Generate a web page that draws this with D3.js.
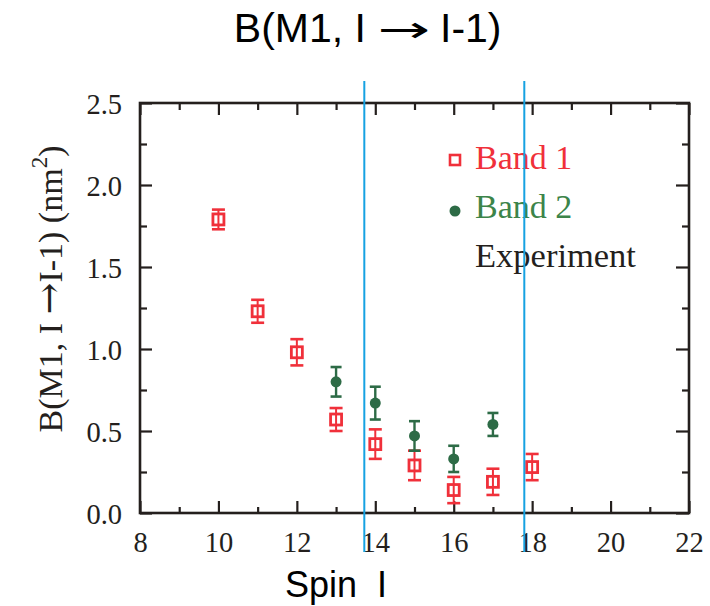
<!DOCTYPE html>
<html>
<head>
<meta charset="utf-8">
<script src="https://cdn.jsdelivr.net/npm/d3@7"></script>
<style>
body { margin: 0; background: #ffffff; }
</style>
</head>
<body>
<div class="chart"></div>
<script>
var width = 710;
var height = 606;

// data
var band1_spin = [10, 11, 12, 13, 14, 15, 16, 17, 18];
var band1_b    = [1.79, 1.23, 0.98, 0.57, 0.42, 0.29, 0.14, 0.19, 0.28];
var band1_err  = [0.06, 0.07, 0.08, 0.07, 0.09, 0.09, 0.08, 0.08, 0.08];

var band2_spin = [13, 14, 15, 16, 17];
var band2_b    = [0.80, 0.67, 0.47, 0.33, 0.54];
var band2_err  = [0.09, 0.10, 0.09, 0.08, 0.07];

var x_major = [8, 10, 12, 14, 16, 18, 20, 22];
var x_minor = [9, 11, 13, 15, 17, 19, 21];
var y_major = [0, 0.5, 1.0, 1.5, 2.0, 2.5];
var y_minor = [0.25, 0.75, 1.25, 1.75, 2.25];

var legend_labels = ['Band 1', 'Band 2', 'Experiment'];
// blue marker lines, in spin units
var marker_lines = [13.72, 17.8];

var red = '#f0303a';
var green_mark = '#2d6b46';
var green_text = '#3c8449';
var ink = '#241f1d';
var serif = '"Liberation Serif", "Times New Roman", serif';
var sans = '"Liberation Sans", Arial, sans-serif';

var chart_svg, x, y;

function draw() {
	chart_svg = d3.select('.chart').append('svg')
		.attr('width', width)
		.attr('height', height)
		.style('background', '#fff');

	x = d3.scaleLinear().domain([8, 22]).range([140, 689]);
	y = d3.scaleLinear().domain([0, 2.5]).range([513, 103]);

	draw_axes();
	draw_band1();
	draw_band2();
	draw_legend();
	draw_notes();
}

function tick_axis(axis, tx, ty, size, cls) {
	var g = chart_svg.append('g')
		.attr('class', cls)
		.attr('transform', 'translate(' + tx + ',' + ty + ')')
		.call(axis.tickSizeInner(size).tickSizeOuter(0));
	g.select('.domain').remove();
	g.selectAll('line').attr('stroke', ink).attr('stroke-width', 2.2);
	return g;
}

function draw_axes() {
	let x_lo = x.range()[0], x_hi = x.range()[1];
	let y_lo = y.range()[0], y_hi = y.range()[1];

	// bottom
	let gb = tick_axis(d3.axisBottom(x).tickValues(x_major).tickPadding(19), 0, y_lo, -12, 'xaxis');
	gb.selectAll('text').attr('font-family', serif).attr('font-size', 28.5).attr('fill', ink);
	tick_axis(d3.axisBottom(x).tickValues(x_minor).tickFormat(''), 0, y_lo, -6, 'xminor');
	// top
	tick_axis(d3.axisTop(x).tickValues(x_major).tickFormat(''), 0, y_hi, -12, 'xtop');
	tick_axis(d3.axisTop(x).tickValues(x_minor).tickFormat(''), 0, y_hi, -7, 'xtopminor');

	// left
	let gl = tick_axis(d3.axisLeft(y).tickValues(y_major).tickFormat(d3.format('.1f')).tickPadding(18), x_lo, 0, -12, 'yaxis');
	gl.selectAll('text').attr('font-family', serif).attr('font-size', 28.5).attr('fill', ink).attr('dy', '0.38em');
	tick_axis(d3.axisLeft(y).tickValues(y_minor).tickFormat(''), x_lo, 0, -7, 'yminor');
	// right
	tick_axis(d3.axisRight(y).tickValues(y_major).tickFormat(''), x_hi, 0, -13, 'yright');
	tick_axis(d3.axisRight(y).tickValues(y_minor).tickFormat(''), x_hi, 0, -7, 'yrightminor');

	chart_svg.append('rect')
		.attr('x', x_lo)
		.attr('y', y_hi)
		.attr('width', x_hi - x_lo)
		.attr('height', y_lo - y_hi)
		.attr('fill', 'none')
		.attr('stroke', ink)
		.attr('stroke-width', 2.6);

	// y title
	let yt = chart_svg.append('text')
		.attr('transform', 'translate(62,' + 289 + ') rotate(-90)')
		.attr('text-anchor', 'middle')
		.attr('font-family', serif)
		.attr('font-size', 34)
		.attr('fill', ink);
	yt.append('tspan').text('B(M1, I ');
	yt.append('tspan').attr('font-family', '"DejaVu Serif", serif').attr('font-size', 38).text('\u2192');
	yt.append('tspan').text('I-1) (nm');
	yt.append('tspan').attr('font-size', 23).attr('dy', -15).text('2');
	yt.append('tspan').attr('dy', 15).text(')');
}

function error_bars(g, spin, b, err, color, cap, sw) {
	let pts = spin.map(function(s, i) { return {s: s, b: b[i], e: err[i]}; });
	g.selectAll('line.bar').data(pts).enter().append('line')
		.attr('class', 'bar')
		.attr('x1', function(d) { return x(d.s); })
		.attr('x2', function(d) { return x(d.s); })
		.attr('y1', function(d) { return y(d.b - d.e); })
		.attr('y2', function(d) { return y(d.b + d.e); })
		.attr('stroke', color).attr('stroke-width', sw);
	[-1, 1].forEach(function(sign) {
		g.selectAll('line.cap' + (sign > 0 ? 'hi' : 'lo')).data(pts).enter().append('line')
			.attr('class', 'cap' + (sign > 0 ? 'hi' : 'lo'))
			.attr('x1', function(d) { return x(d.s) - cap / 2; })
			.attr('x2', function(d) { return x(d.s) + cap / 2; })
			.attr('y1', function(d) { return y(d.b + sign * d.e); })
			.attr('y2', function(d) { return y(d.b + sign * d.e); })
			.attr('stroke', color).attr('stroke-width', 2.6);
	});
	return pts;
}

function draw_band1() {
	let g = chart_svg.append('g').attr('class', 'band1');
	let pts = error_bars(g, band1_spin, band1_b, band1_err, red, 13, 2);
	let s = 11;
	g.selectAll('rect').data(pts).enter().append('rect')
		.attr('x', function(d) { return x(d.s) - s / 2; })
		.attr('y', function(d) { return y(d.b) - s / 2; })
		.attr('width', s)
		.attr('height', s)
		.attr('fill', 'none')
		.attr('stroke', red)
		.attr('stroke-width', 2.8);
}

function draw_band2() {
	let g = chart_svg.append('g').attr('class', 'band2');
	let pts = error_bars(g, band2_spin, band2_b, band2_err, green_mark, 11, 2.4);
	g.selectAll('circle').data(pts).enter().append('circle')
		.attr('cx', function(d) { return x(d.s); })
		.attr('cy', function(d) { return y(d.b); })
		.attr('r', 5.5)
		.attr('fill', green_mark);
}

function print(px, py, s, fs, color, family, anchor) {
	return chart_svg.append('text')
		.attr('x', px)
		.attr('y', py)
		.attr('font-family', family)
		.attr('font-size', fs)
		.attr('fill', color)
		.attr('text-anchor', anchor || 'start')
		.style('white-space', 'pre')
		.text(s);
}

function draw_legend() {
	let lx = 455;
	chart_svg.append('rect')
		.attr('x', lx - 5).attr('y', 155)
		.attr('width', 10).attr('height', 10)
		.attr('fill', 'none').attr('stroke', red).attr('stroke-width', 2.6);
	chart_svg.append('circle')
		.attr('cx', lx).attr('cy', 211).attr('r', 5.5)
		.attr('fill', green_mark);
	print(475, 169, legend_labels[0], 34, red, serif);
	print(475, 218, legend_labels[1], 34, green_text, serif);
	print(475, 267, legend_labels[2], 34.5, ink, serif);
}

function draw_notes() {
	chart_svg.selectAll('line.marker').data(marker_lines).enter().append('line')
		.attr('class', 'marker')
		.attr('x1', function(d) { return x(d); })
		.attr('x2', function(d) { return x(d); })
		.attr('y1', 81)
		.attr('y2', 552)
		.attr('stroke', '#16a2e2')
		.attr('stroke-width', 2);

	// title, with a long arrow in the middle
	print(366, 42, 'B(M1, I', 41, '#000', sans, 'end');
	chart_svg.append('text')
		.attr('transform', 'translate(404,42) scale(1.75,1)')
		.attr('text-anchor', 'middle')
		.attr('font-family', '"DejaVu Sans", sans-serif')
		.attr('font-size', 36)
		.attr('fill', '#000')
		.text('\u2192');
	print(440, 42, 'I-1)', 41, '#000', sans);

	print(285, 597, 'Spin  I', 36, '#000', sans);
}

draw();
</script>
</body>
</html>
